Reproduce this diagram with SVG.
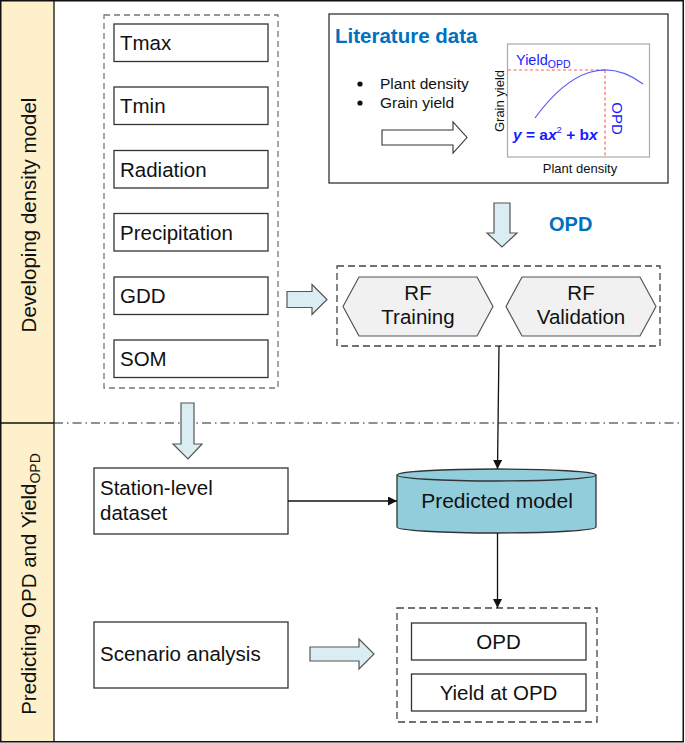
<svg xmlns="http://www.w3.org/2000/svg" width="685" height="743" viewBox="0 0 685 743">
<defs>
<style>
text{font-family:"Liberation Sans",Arial,sans-serif;fill:#111}
.t{font-size:20.5px}
.box{fill:#fff;stroke:#333;stroke-width:1.3}
.dash{fill:none;stroke:#444;stroke-width:1.3;stroke-dasharray:7 4}
.ldash{fill:none;stroke:#777;stroke-width:1.3;stroke-dasharray:6 4}
.barrow{fill:#daedf3;stroke:#555;stroke-width:1.2}
.hex{fill:#f1f1f1;stroke:#555;stroke-width:1.2}
.blue{fill:#0070c0;font-weight:bold}
.conn{fill:none;stroke:#111;stroke-width:1.3}
</style>
<marker id="ah" viewBox="0 0 10 10" refX="10" refY="5" markerWidth="9" markerHeight="9" markerUnits="userSpaceOnUse" orient="auto">
<path d="M0,0 L10,5 L0,10 Z" fill="#111"/>
</marker>
</defs>
<rect x="0" y="0" width="685" height="743" fill="#fff"/>
<g id="bands">
<rect x="0.75" y="0.75" width="53.5" height="741" fill="#fdf0cb"/>
<rect x="0.75" y="0.75" width="682.5" height="741" fill="none" stroke="#111" stroke-width="1.5"/>
<line x1="54" y1="0.75" x2="54" y2="742" stroke="#111" stroke-width="1.3"/>
<line x1="0.75" y1="423" x2="54" y2="423" stroke="#111" stroke-width="1.3"/>
<line x1="54" y1="423" x2="683" y2="423" stroke="#222" stroke-width="1.2" stroke-dasharray="9 4 1.5 4"/>
<text class="t" transform="translate(36,215) rotate(-90)" text-anchor="middle">Developing density model</text>
<text class="t" transform="translate(36,584) rotate(-90)" text-anchor="middle">Predicting OPD and Yield<tspan font-size="14" dy="4">OPD</tspan></text>
</g>
<g id="inputs">
<rect class="ldash" x="104" y="15" width="174" height="373"/>
<g id="tmax"><rect class="box" x="114" y="24" width="154" height="37.5"/><text class="t" x="120" y="50">Tmax</text></g>
<g id="tmin"><rect class="box" x="114" y="87" width="154" height="37.5"/><text class="t" x="120" y="113">Tmin</text></g>
<g id="radiation"><rect class="box" x="114" y="150.5" width="154" height="37.5"/><text class="t" x="120" y="176.5">Radiation</text></g>
<g id="precipitation"><rect class="box" x="114" y="213.5" width="154" height="37.5"/><text class="t" x="120" y="239.5">Precipitation</text></g>
<g id="gdd"><rect class="box" x="114" y="277" width="154" height="37.5"/><text class="t" x="120" y="303">GDD</text></g>
<g id="som"><rect class="box" x="114" y="340" width="154" height="37.5"/><text class="t" x="120" y="366">SOM</text></g>
</g>
<g id="literature">
<rect x="329" y="14" width="339" height="169" fill="#fff" stroke="#333" stroke-width="1.3"/>
<text class="blue" x="335" y="43" font-size="20.5">Literature data</text>
<circle cx="360" cy="84" r="2.6" fill="#111"/>
<circle cx="360" cy="103" r="2.6" fill="#111"/>
<text x="380" y="89" font-size="15.5">Plant density</text>
<text x="380" y="108" font-size="15.5">Grain yield</text>
<polygon points="382,130 453,130 453,122 467,137.5 453,153 453,145 382,145" fill="#fff" stroke="#333" stroke-width="1.1"/>
<rect x="507.5" y="44" width="142" height="113" fill="#fff" stroke="#aaa" stroke-width="1.2"/>
<line x1="508" y1="70" x2="605" y2="70" stroke="#ff5a5a" stroke-width="1.1" stroke-dasharray="3 2.5"/>
<line x1="605" y1="70" x2="605" y2="157" stroke="#ff5a5a" stroke-width="1.1" stroke-dasharray="3 2.5"/>
<path d="M535,118 Q589,44 643,84" fill="none" stroke="#5a5aff" stroke-width="1.2"/>
<text x="516" y="65" font-size="14.5" style="fill:#1a1aff">Yield<tspan font-size="10.5" dy="3">OPD</tspan></text>
<text transform="translate(612,118.5) rotate(90)" text-anchor="middle" font-size="15" style="fill:#1a1aff">OPD</text>
<text transform="translate(504,101) rotate(-90)" text-anchor="middle" font-size="13">Grain yield</text>
<text x="513" y="140" font-size="15.5" style="fill:#1a1aff;font-weight:bold"><tspan font-style="italic">y</tspan> = a<tspan font-style="italic">x</tspan><tspan font-size="9.5" dy="-7" font-weight="normal">2</tspan><tspan dy="7"> + b</tspan><tspan font-style="italic">x</tspan></text>
<text x="580" y="173" text-anchor="middle" font-size="13">Plant density</text>
</g>
<g id="opd-arrow">
<polygon class="barrow" points="494,203 510,203 510,233 517,233 502,247 487,233 494,233"/>
<text class="blue" x="549" y="231" font-size="20">OPD</text>
</g>
<g id="rf">
<rect class="dash" x="337" y="266" width="323" height="80"/>
<g id="rf-training">
<polygon class="hex" points="343,306.5 359,277 477,277 493,306.5 477,336 359,336"/>
<text class="t" x="418" y="300" text-anchor="middle">RF</text>
<text class="t" x="418" y="324" text-anchor="middle">Training</text>
</g>
<g id="rf-validation">
<polygon class="hex" points="506,306.5 522,277 640,277 656,306.5 640,336 522,336"/>
<text class="t" x="581" y="300" text-anchor="middle">RF</text>
<text class="t" x="581" y="324" text-anchor="middle">Validation</text>
</g>
</g>
<g id="input-arrow">
<polygon class="barrow" points="287,291.5 312,291.5 312,284.5 327,299.5 312,314.5 312,307.5 287,307.5"/>
</g>
<g id="down-arrow">
<polygon class="barrow" points="181,403 194,403 194,444 202,444 188,459 173,444 181,444"/>
</g>
<g id="station">
<rect class="box" x="94" y="468" width="194" height="66"/>
<text class="t" x="100" y="495">Station-level</text>
<text class="t" x="100" y="520">dataset</text>
</g>
<g id="predicted-model">
<path d="M397,475 A99.5,6 0 0 1 596,475 L596,527 A99.5,6 0 0 1 397,527 Z" fill="#92cddc" stroke="#333" stroke-width="1.3"/>
<path d="M397,475 A99.5,6 0 0 0 596,475" fill="none" stroke="#333" stroke-width="1.3"/>
<text x="497" y="508" text-anchor="middle" font-size="21">Predicted model</text>
</g>
<g id="scenario">
<rect class="box" x="94" y="622" width="194" height="66"/>
<text class="t" x="100" y="661">Scenario analysis</text>
</g>
<g id="scenario-arrow">
<polygon class="barrow" points="310,647 359,647 359,639 374,654 359,669 359,661 310,661"/>
</g>
<g id="results">
<rect class="dash" x="397" y="608" width="200" height="114"/>
<g id="opd-out"><rect class="box" x="411.5" y="623" width="174.5" height="37"/><text class="t" x="498.5" y="648.5" text-anchor="middle">OPD</text></g>
<g id="yield-out"><rect class="box" x="411.5" y="674" width="174.5" height="37"/><text class="t" x="498.5" y="699.5" text-anchor="middle">Yield at OPD</text></g>
</g>
<g id="connectors">
<line class="conn" x1="499" y1="346" x2="497.5" y2="469" marker-end="url(#ah)"/>
<line class="conn" x1="288" y1="501" x2="397" y2="501" marker-end="url(#ah)"/>
<line class="conn" x1="497.5" y1="533" x2="497.5" y2="608" marker-end="url(#ah)"/>
</g>
</svg>
